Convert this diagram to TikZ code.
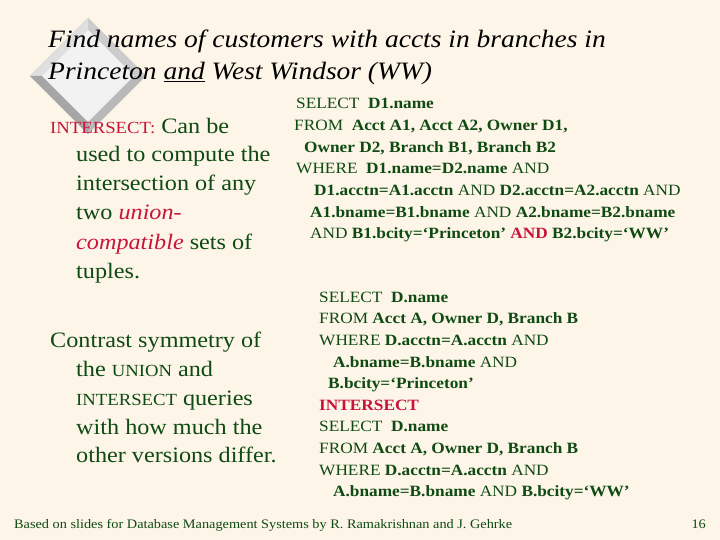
\documentclass[tikz,border=0pt]{standalone}
\usepackage{fontspec}
\setmainfont[FakeStretch=1.1]{Liberation Serif}
\definecolor{slidebg}{HTML}{FDF5E8}
\definecolor{txtgreen}{HTML}{0E4A12}
\definecolor{kwred}{HTML}{C8143C}
\tikzstyle{title} = [anchor=base west, inner sep=0pt, font=\fontsize{25}{28}\selectfont\itshape, text=black]
\tikzstyle{body} = [anchor=base west, inner sep=0pt, font=\fontsize{22}{25}\selectfont, text=txtgreen]
\tikzstyle{sql} = [anchor=base west, inner sep=0pt, font=\fontsize{15.7}{18}\selectfont, text=txtgreen]
\tikzstyle{foot} = [anchor=base west, inner sep=0pt, font=\fontsize{13}{14}\selectfont, text=txtgreen]
\newcommand{\kw}[1]{\textcolor{kwred}{#1}}
\newcommand{\bsq}[1]{\textbf{#1}}
\begin{document}
\begin{tikzpicture}[x=1pt, y=-1pt]
    \fill[slidebg] (0,0) rectangle (720,540);
    \useasboundingbox (0,0) rectangle (720,540);
    % bevelled diamond
    \fill[gray!55] (88,18) -- (146,76) -- (88,134) -- (30,76) -- cycle;
    \fill[gray!25] (88,18) -- (30,76) -- (42,76) -- (88,30) -- cycle;
    \fill[gray!40] (88,18) -- (146,76) -- (134,76) -- (88,30) -- cycle;
    \fill[gray!70] (30,76) -- (88,134) -- (88,122) -- (42,76) -- cycle;
    \fill[gray!10] (88,30) -- (134,76) -- (88,122) -- (42,76) -- cycle;

    \node (t1) [title] at (48,48) {Find names of customers with accts in branches in};
    \node (t2) [title] at (48,80) {Princeton \underline{and} West Windsor (WW)};

    \node (l1) [body] at (50,134) {\kw{\fontsize{17}{20}\selectfont INTERSECT:} Can be};
    \node (l2) [body] at (76,162) {used to compute the};
    \node (l3) [body] at (76,191) {intersection of any};
    \node (l4) [body] at (76,220) {two \kw{\itshape union-}};
    \node (l5) [body] at (76,249) {\kw{\itshape compatible} sets of};
    \node (l6) [body] at (76,278) {tuples.};

    \node (c1) [body] at (50,347) {Contrast symmetry of};
    \node (c2) [body] at (76,376) {the {\fontsize{17}{20}\selectfont UNION} and};
    \node (c3) [body] at (76,405) {{\fontsize{17}{20}\selectfont INTERSECT} queries};
    \node (c4) [body] at (76,434) {with how much the};
    \node (c5) [body] at (76,462) {other versions differ.};

    \node (q1) [sql] at (296,109) {SELECT \ \bsq{D1.name}};
    \node (q2) [sql] at (294,131) {FROM \ \bsq{Acct A1, Acct A2, Owner D1,}};
    \node (q3) [sql] at (304,153) {\bsq{Owner D2, Branch B1, Branch B2}};
    \node (q4) [sql] at (296,174) {WHERE \ \bsq{D1.name=D2.name} AND};
    \node (q5) [sql] at (314,196) {\bsq{D1.acctn=A1.acctn} AND \bsq{D2.acctn=A2.acctn} AND};
    \node (q6) [sql] at (310,218) {\bsq{A1.bname=B1.bname} AND \bsq{A2.bname=B2.bname}};
    \node (q7) [sql] at (310,239) {AND \bsq{B1.bcity=`Princeton'} \kw{\bsq{AND}} \bsq{B2.bcity=`WW'}};

    \node (s1) [sql] at (319,302) {SELECT \ \bsq{D.name}};
    \node (s2) [sql] at (319,323) {FROM \bsq{Acct A, Owner D, Branch B}};
    \node (s3) [sql] at (319,345) {WHERE \bsq{D.acctn=A.acctn} AND};
    \node (s4) [sql] at (333,367) {\bsq{A.bname=B.bname} AND};
    \node (s5) [sql] at (328,388) {\bsq{B.bcity=`Princeton'}};
    \node (s6) [sql] at (319,410) {\kw{\bsq{INTERSECT}}};
    \node (s7) [sql] at (319,431) {SELECT \ \bsq{D.name}};
    \node (s8) [sql] at (319,453) {FROM \bsq{Acct A, Owner D, Branch B}};
    \node (s9) [sql] at (319,475) {WHERE \bsq{D.acctn=A.acctn} AND};
    \node (s10) [sql] at (333,496) {\bsq{A.bname=B.bname} AND \bsq{B.bcity=`WW'}};

    \node (foot) [foot] at (14,528) {Based on slides for Database Management Systems by R. Ramakrishnan and J. Gehrke};
    \node (page) [foot, anchor=base east] at (706,528) {16};
\end{tikzpicture}
\end{document}
